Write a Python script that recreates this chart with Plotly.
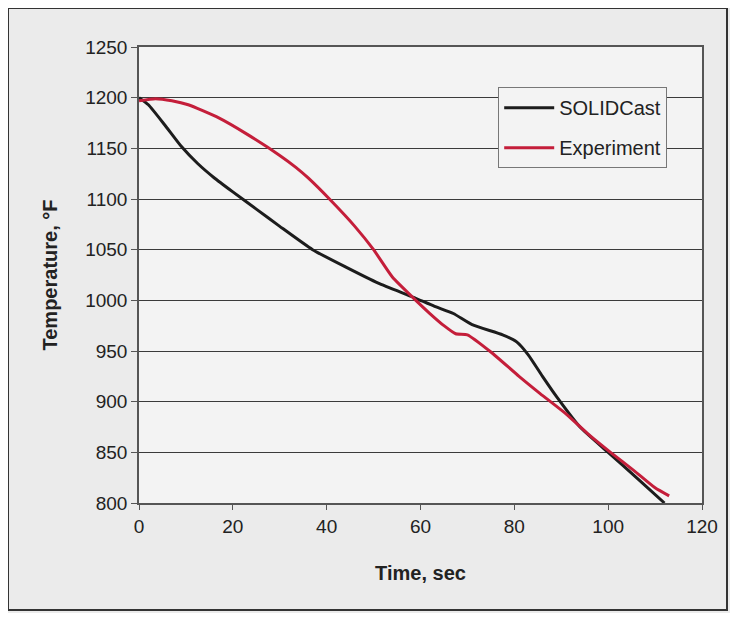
import plotly.graph_objects as go

# SOLIDCast simulation curve
sim_time = [0, 2, 5.5, 9, 12.5, 16, 20, 25, 30, 37, 44, 51, 58.5, 63, 67, 71, 77.5, 80.5, 83, 86, 89, 94, 100, 106.5, 112]
sim_temp = [1200, 1193, 1173, 1152, 1135, 1121, 1107, 1090, 1073, 1050, 1033, 1017, 1003, 994, 987, 976, 966, 959, 946, 925, 905, 875, 850, 823, 800]

# Experiment curve
exp_time = [0, 3.5, 7, 10.5, 17, 23, 30, 33.5, 36, 41, 46, 50, 54, 59, 62, 65, 67.5, 70, 75, 81, 85.5, 91, 95.5, 100.5, 105.5, 110, 113]
exp_temp = [1197, 1199, 1197, 1193, 1180, 1164, 1143, 1131, 1121, 1098, 1073, 1050, 1023, 1000, 987, 975, 967, 966, 949, 925, 908, 888, 869, 850, 832, 815, 807]

x_ticks = [0, 20, 40, 60, 80, 100, 120]
y_ticks = [800, 850, 900, 950, 1000, 1050, 1100, 1150, 1200, 1250]

FONT = "Liberation Sans, Arial, sans-serif"

fig = go.Figure()
fig.add_trace(go.Scatter(x=sim_time, y=sim_temp, mode="lines", name="SOLIDCast",
                         legendgroup="a",
                         line=dict(color="#1c1c1c", width=3, shape="spline", smoothing=0.5)))
fig.add_trace(go.Scatter(x=exp_time, y=exp_temp, mode="lines", name="Experiment",
                         legendgroup="b",
                         line=dict(color="#c41e3a", width=3, shape="spline", smoothing=0.5)))

fig.update_layout(
    width=722, height=605,
    margin=dict(l=131, r=28, t=39, b=110),
    paper_bgcolor="#ebebeb",
    plot_bgcolor="#f3f3f3",
    font=dict(family=FONT, size=19, color="#222"),
    showlegend=True,
    legend=dict(
        x=0.638, y=0.912, xanchor="left", yanchor="top",
        bgcolor="#f3f3f3", bordercolor="#777", borderwidth=1,
        font=dict(family=FONT, size=20, color="#222"),
        tracegroupgap=11, itemwidth=50,
    ),
    xaxis=dict(
        range=[0, 120], tickvals=x_ticks, showgrid=False, zeroline=False,
        showline=True, linecolor="#555", linewidth=1.5, mirror=True,
        ticks="outside", ticklen=5, tickcolor="#555",
        tickfont=dict(size=19),
        title=dict(text="<b>Time, sec</b>", font=dict(size=20), standoff=30),
    ),
    yaxis=dict(
        range=[800, 1250], tickvals=y_ticks, showgrid=True, gridcolor="#3a3a3a",
        gridwidth=1, zeroline=False,
        showline=True, linecolor="#555", linewidth=1.5, mirror=True,
        ticks="outside", ticklen=6, tickcolor="#555",
        tickfont=dict(size=19),
        title=dict(text="<b>Temperature, °F</b>", font=dict(size=20), standoff=22),
    ),
)

# outer chart frame
fig.add_shape(type="rect", xref="paper", yref="paper",
              x0=-0.2327, x1=1.0444, y0=-0.2346, y1=1.0855,
              line=dict(color="#333", width=2), layer="below")

fig.write_html("out.html")
